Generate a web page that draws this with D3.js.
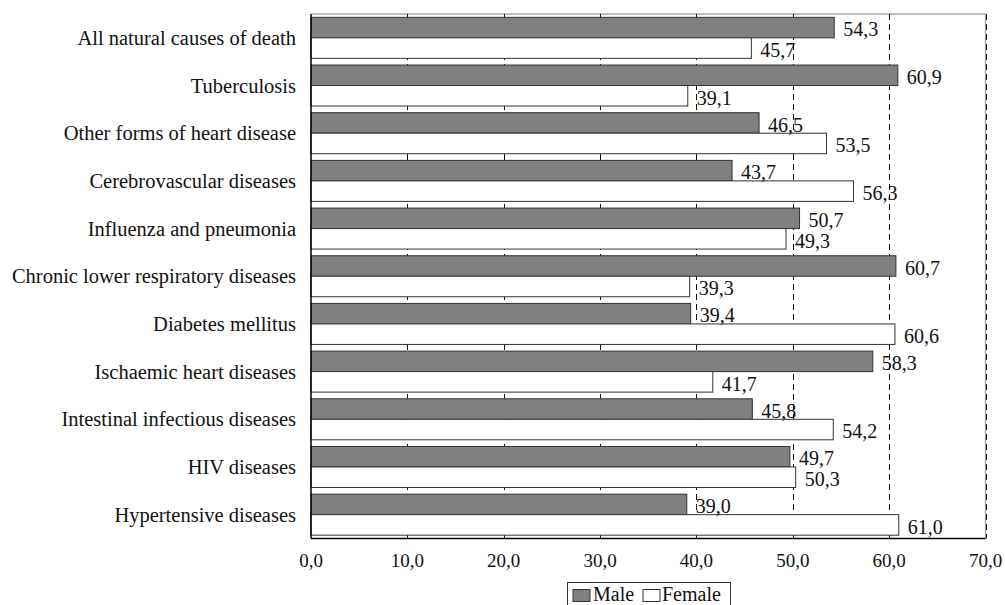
<!DOCTYPE html>
<html>
<head>
<meta charset="utf-8">
<script src="https://cdn.jsdelivr.net/npm/d3@7"></script>
<style>
  html, body { margin: 0; padding: 0; background: #fff; }
  svg { display: block; }
</style>
</head>
<body>
<svg id="chart" width="1005" height="605"></svg>
<script>
const categories = [
  "All natural causes of death",
  "Tuberculosis",
  "Other forms of heart disease",
  "Cerebrovascular diseases",
  "Influenza and pneumonia",
  "Chronic lower respiratory diseases",
  "Diabetes mellitus",
  "Ischaemic heart diseases",
  "Intestinal infectious diseases",
  "HIV diseases",
  "Hypertensive diseases"
];
const maleValues   = [54.3, 60.9, 46.5, 43.7, 50.7, 60.7, 39.4, 58.3, 45.8, 49.7, 39.0];
const femaleValues = [45.7, 39.1, 53.5, 56.3, 49.3, 39.3, 60.6, 41.7, 54.2, 50.3, 61.0];
const seriesNames = ["Male", "Female"];
const xTicks = [0, 10, 20, 30, 40, 50, 60, 70];

const FONT = '"Liberation Serif", "Times New Roman", serif';
const svg = d3.select("#chart");
const pLeft = 311, pRight = 985.5, pTop = 14, pBottom = 538.5;
const fmt = v => d3.format(".1f")(v).replace(".", ",");
const colors = { Male: "#808080", Female: "#ffffff" };

const x = d3.scaleLinear().domain([0, 70]).range([pLeft, pRight]);
const y = d3.scaleBand().domain(categories).range([pTop, pBottom]).paddingInner(0.14).paddingOuter(0.07);
const ySub = d3.scaleBand().domain(seriesNames).range([0, y.bandwidth()]);

// frame top & right (gray)
svg.append("line").attr("x1", pLeft).attr("x2", pRight).attr("y1", pTop).attr("y2", pTop)
  .attr("stroke", "#808080").attr("stroke-width", 1.2);
svg.append("line").attr("x1", pRight).attr("x2", pRight).attr("y1", pTop).attr("y2", pBottom)
  .attr("stroke", "#9a9a9a").attr("stroke-width", 1.2);

// dashed gridlines
svg.append("g").selectAll("line").data(xTicks.filter(t => t > 0)).join("line")
  .attr("x1", d => Math.round(x(d)) + 0.5).attr("x2", d => Math.round(x(d)) + 0.5)
  .attr("y1", pTop).attr("y2", pBottom)
  .attr("stroke", "#111").attr("stroke-width", 1).attr("stroke-dasharray", "6,4");

// bars
const data = [];
categories.forEach((c, i) => {
  data.push({ cat: c, series: "Male", value: maleValues[i] });
  data.push({ cat: c, series: "Female", value: femaleValues[i] });
});
svg.append("g").selectAll("rect").data(data).join("rect")
  .attr("x", x(0))
  .attr("y", d => y(d.cat) + ySub(d.series))
  .attr("width", d => x(d.value) - x(0))
  .attr("height", ySub.bandwidth())
  .attr("fill", d => colors[d.series])
  .attr("stroke", "#333").attr("stroke-width", 1);

// value labels
svg.append("g").selectAll("text").data(data).join("text")
  .attr("x", d => x(d.value) + 9)
  .attr("y", d => y(d.cat) + ySub(d.series) + ySub.bandwidth() - 1.5)
  .style("font-family", FONT).style("font-size", "20px").attr("fill", "#111")
  .text(d => fmt(d.value));

// axes lines
svg.append("line").attr("x1", pLeft).attr("x2", pLeft).attr("y1", pTop).attr("y2", pBottom)
  .attr("stroke", "#000").attr("stroke-width", 1.5);
svg.append("line").attr("x1", pLeft).attr("x2", pRight).attr("y1", pBottom).attr("y2", pBottom)
  .attr("stroke", "#000").attr("stroke-width", 1.5);

// category labels
svg.append("g").selectAll("text").data(categories).join("text")
  .attr("x", 296)
  .attr("y", d => y(d) + y.bandwidth() / 2 + 7)
  .attr("text-anchor", "end")
  .style("font-family", FONT).style("font-size", "20.5px").attr("fill", "#111")
  .text(d => d);

// x tick labels
svg.append("g").selectAll("text").data(xTicks).join("text")
  .attr("x", d => x(d))
  .attr("y", 567)
  .attr("text-anchor", "middle")
  .style("font-family", FONT).style("font-size", "19px").attr("fill", "#111")
  .text(d => fmt(d));

// legend
const lg = svg.append("g");
lg.append("rect").attr("x", 567.5).attr("y", 582.5).attr("width", 163).attr("height", 26)
  .attr("fill", "#fff").attr("stroke", "#333").attr("stroke-width", 1);
const legendItems = [
  { name: "Male", sx: 573, tx: 593 },
  { name: "Female", sx: 643, tx: 662 }
];
legendItems.forEach(it => {
  lg.append("rect").attr("x", it.sx).attr("y", 589.5).attr("width", 17).attr("height", 12)
    .attr("fill", colors[it.name]).attr("stroke", "#333").attr("stroke-width", 1);
  lg.append("text").attr("x", it.tx).attr("y", 600.5)
    .style("font-family", FONT).style("font-size", "20px").attr("fill", "#111")
    .text(it.name);
});
</script>
</body>
</html>
